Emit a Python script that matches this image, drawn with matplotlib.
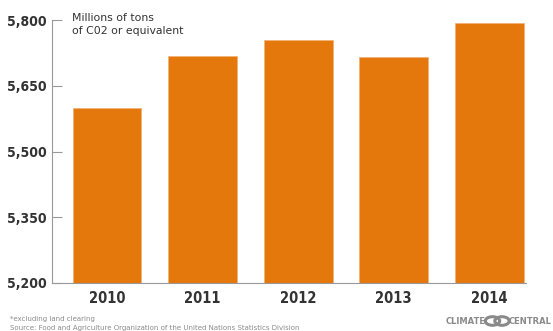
import matplotlib.pyplot as plt
from matplotlib.patches import Circle

years = ['2010', '2011', '2012', '2013', '2014']
emissions = [5600, 5718, 5754, 5716, 5793]
yticks = [5200, 5350, 5500, 5650, 5800]

orange = '#E5780C'
dark = '#333333'
grey = '#8a8a8a'

fig = plt.figure(figsize=(5.53, 3.31), dpi=100)
ax = fig.add_axes([52/553, 1 - 283/331, 474/553, 263/331])

ax.bar(range(len(years)), emissions, width=0.72, color=orange,
       edgecolor='#F3B27A', linewidth=0.6)
ax.set_ylim(5200, 5800)
ax.set_xlim(-0.575, 4.383)

lab = dict(family='DejaVu Sans', fontstretch='condensed', fontweight='bold',
           fontsize=10, color=dark)
ax.set_yticks(yticks)
ax.set_yticklabels(['{:,}'.format(v) for v in yticks], **lab)
ax.set_xticks(range(len(years)))
ax.set_xticklabels(years, **{**lab, 'fontsize': 10.5})
ax.tick_params(axis='y', direction='in', length=7.5, width=0.8, color='#999999', pad=4)
ax.tick_params(axis='x', length=0, pad=6)

for s in ['top', 'right']:
    ax.spines[s].set_visible(False)
for s in ['left', 'bottom']:
    ax.spines[s].set_color('#999999')
    ax.spines[s].set_linewidth(0.8)

ax.text(72/553, 1 - 13/331, 'Millions of tons\nof C02 or equivalent', transform=fig.transFigure,
        fontsize=7.8, color=dark, va='top', ha='left', linespacing=1.35)

fig.text(10/553, 1 - 319/331, '*excluding land clearing', fontsize=5.0, color=grey,
         va='center', ha='left')
fig.text(10/553, 1 - 328/331, 'Source: Food and Agriculture Organization of the United Nations Statistics Division',
         fontsize=5.0, color=grey, va='center', ha='left')

# logo
fig.text(486/553, 1 - 321/331, 'CLIMATE', fontsize=6, fontweight='bold', color=grey,
         va='center', ha='right')
fig.text(509/553, 1 - 321/331, 'CENTRAL', fontsize=6, fontweight='bold', color=grey,
         va='center', ha='left')
for cx in (492.5, 502):
    fig.patches.append(Circle((cx/553, 1 - 321/331), 4.3/331, transform=fig.transFigure,
                              fill=False, edgecolor=grey, linewidth=2.2))

fig.savefig('out.png', dpi=100)
